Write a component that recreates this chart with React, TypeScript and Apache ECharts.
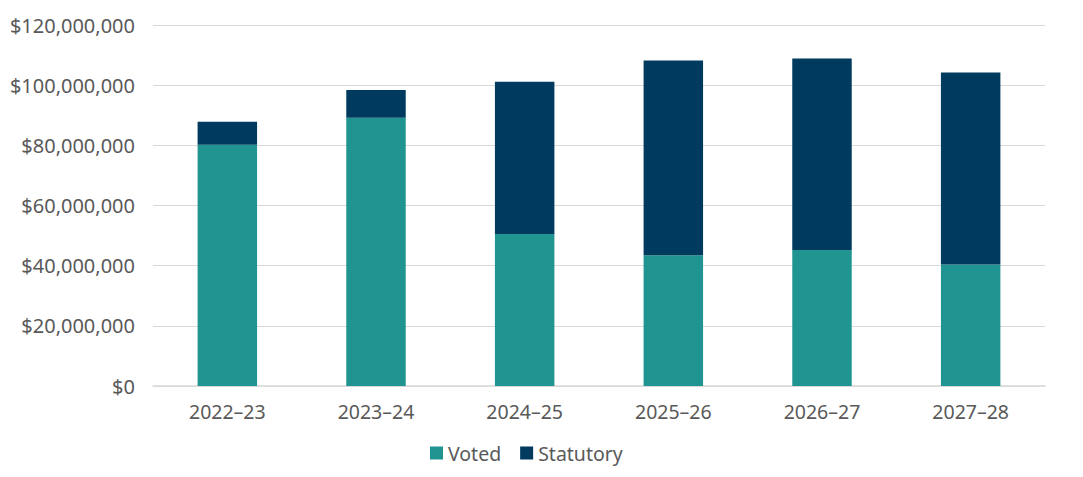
import React, { useEffect, useRef } from 'react';
import * as echarts from 'echarts';

const years = ['2022–23', '2023–24', '2024–25', '2025–26', '2026–27', '2027–28'];
const voted = [80200000, 89200000, 50500000, 43500000, 45200000, 40400000];
const statutory = [7600000, 9200000, 50600000, 64700000, 63700000, 63800000];

const FONT = 'Noto Sans';
const TEXT = '#595959';

const App: React.FC = () => {
  const chartRef = useRef<HTMLDivElement>(null);

  useEffect(() => {
    if (!chartRef.current) return;
    const chart = echarts.init(chartRef.current, undefined, { renderer: 'svg' });

    const option: echarts.EChartsOption = {
      animation: false,
      textStyle: { fontFamily: FONT },
      grid: { left: 153, right: 38, top: 25, bottom: 91 },
      legend: {
        left: 425,
        top: 438,
        itemWidth: 13,
        itemHeight: 13,
        itemGap: 19,
        icon: 'rect',
        textStyle: { color: TEXT, fontSize: 19.5, fontFamily: FONT },
        data: ['Voted', 'Statutory']
      },
      xAxis: {
        type: 'category',
        data: years,
        axisLine: { lineStyle: { color: '#D9D9D9', width: 1.5 } },
        axisTick: { show: false },
        axisLabel: { color: TEXT, fontSize: 19.5, margin: 15 }
      },
      yAxis: {
        type: 'value',
        min: 0,
        max: 120000000,
        interval: 20000000,
        axisLine: { show: false },
        axisTick: { show: false },
        splitLine: { lineStyle: { color: '#D9D9D9', width: 1 } },
        axisLabel: {
          color: TEXT,
          fontSize: 20,
          margin: 18,
          formatter: (v: number) => '$' + v.toLocaleString('en-US')
        }
      },
      series: [
        {
          name: 'Voted',
          type: 'bar',
          stack: 'total',
          data: voted,
          barWidth: '40%',
          itemStyle: { color: '#1F9491' }
        },
        {
          name: 'Statutory',
          type: 'bar',
          stack: 'total',
          data: statutory,
          barWidth: '40%',
          itemStyle: { color: '#003B5F' }
        }
      ]
    };

    chart.setOption(option);

    return () => {
      chart.dispose();
    };
  }, []);

  return (
    <div
      ref={chartRef}
      style={{ position: 'absolute', left: 0, top: 0, width: '1083px', height: '477px', background: '#fff' }}
    />
  );
};

export default App;
